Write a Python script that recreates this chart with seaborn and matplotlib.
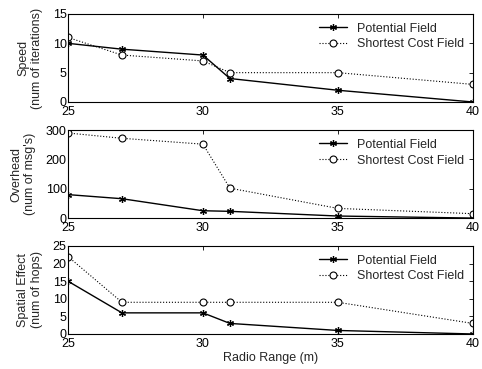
import numpy as np
import pandas as pd
import matplotlib
matplotlib.use("Agg")
import matplotlib.pyplot as plt
import seaborn as sns

radio_range = [25, 27, 30, 31, 35, 40]

speed_pf = [10, 9, 8, 4, 2, 0]
speed_scf = [11, 8, 7, 5, 5, 3]

overhead_pf = [80, 66, 25, 23, 7, 0]
overhead_scf = [290, 272, 252, 102, 33, 15]

spatial_pf = [15, 6, 6, 3, 1, 0]
spatial_scf = [22, 9, 9, 9, 9, 3]

panels = [
    ("Speed\n(num of iterations)", speed_pf, speed_scf, [0, 5, 10, 15], 15),
    ("Overhead\n(num of msg's)", overhead_pf, overhead_scf, [0, 100, 200, 300], 300),
    ("Spatial Effect\n(num of hops)", spatial_pf, spatial_scf, [0, 5, 10, 15, 20, 25], 25),
]

sns.set_style("white")
plt.rcParams["font.family"] = ["Liberation Sans", "DejaVu Sans"]
plt.rcParams["font.size"] = 9

fig = plt.figure(figsize=(4.82, 3.69), dpi=100)
bottoms = [0.7236, 0.409, 0.0949]

for (ylabel, pf, scf, yticks, ymax), b in zip(panels, bottoms):
    ax = fig.add_axes([0.141, b, 0.840, 0.2385])
    df = pd.DataFrame({"x": radio_range, "pf": pf, "scf": scf})
    sns.lineplot(data=df, x="x", y="pf", ax=ax, color="black", lw=1.0,
                 marker=(6, 2, 0), markersize=5, markeredgecolor="black",
                 markeredgewidth=0.9, label="Potential Field")
    sns.lineplot(data=df, x="x", y="scf", ax=ax, color="black", lw=0.8,
                 linestyle=":", marker="o", markersize=5,
                 markerfacecolor="white", markeredgecolor="black",
                 markeredgewidth=0.8, label="Shortest Cost Field")
    ax.set_xlim(25, 40)
    ax.set_ylim(0, ymax)
    ax.set_xticks([25, 30, 35, 40])
    ax.set_yticks(yticks)
    ax.set_ylabel(ylabel, fontsize=9, labelpad=7)
    ax.set_xlabel("")
    ax.tick_params(direction="in", length=3, width=0.6, top=True, right=True,
                   labelsize=9, pad=1, colors="black")
    ax.tick_params(axis="x", pad=3)
    for s in ax.spines.values():
        s.set_color("black")
        s.set_linewidth(0.8)
        s.set_visible(True)
    ax.legend(loc="upper right", frameon=False, fontsize=9, handlelength=2.2,
              borderaxespad=0.3, labelspacing=0.3)

ax.set_xlabel("Radio Range (m)", fontsize=9, labelpad=1)

fig.savefig("out.png", dpi=100)
